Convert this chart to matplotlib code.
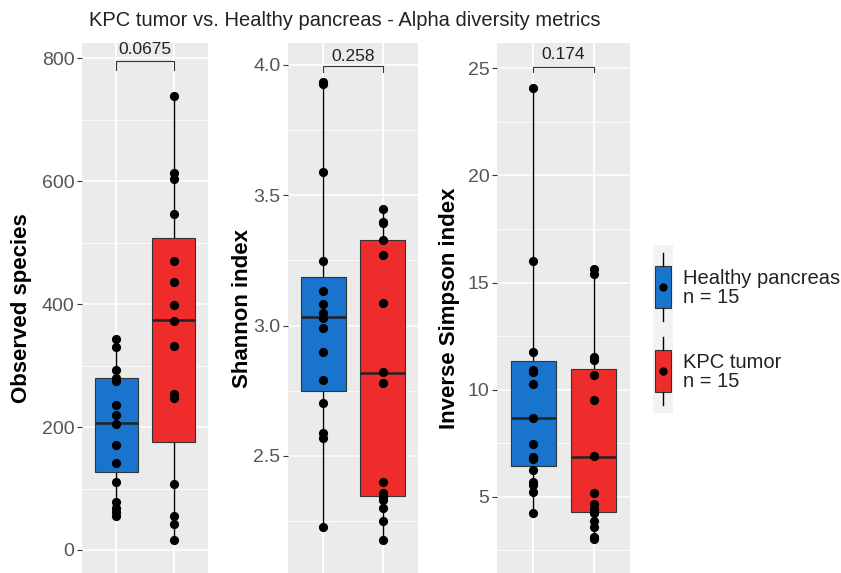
import matplotlib
matplotlib.use("Agg")
import matplotlib.pyplot as plt
from matplotlib.patches import Rectangle
from matplotlib.ticker import MultipleLocator

plt.rcParams['font.family'] = ['Liberation Sans', 'DejaVu Sans']

W, H = 841, 573

groups = ["Healthy pancreas", "KPC tumor"]
group_n = [15, 15]
fill_colors = ["#1874CD", "#EE2C2C"]

# values, one list per group and metric
obs_healthy = [343, 330, 293, 279, 274, 236, 219, 205, 171, 142, 111, 78, 68, 61, 55]
obs_kpc = [738, 613, 603, 546, 470, 435, 398, 373, 332, 254, 247, 107, 55, 42, 16]
shannon_healthy = [3.934, 3.927, 3.591, 3.246, 3.133, 3.082, 3.047, 3.028, 2.990,
                   2.900, 2.792, 2.705, 2.587, 2.570, 2.226]
shannon_kpc = [3.448, 3.399, 3.393, 3.329, 3.271, 3.086, 2.821, 2.779, 2.399,
               2.359, 2.344, 2.331, 2.299, 2.251, 2.178]
invsimp_healthy = [24.07, 16.01, 11.76, 10.93, 10.83, 10.28, 8.68, 7.48, 6.85,
                   6.78, 6.26, 5.69, 5.53, 5.22, 4.24]
invsimp_kpc = [15.65, 15.42, 11.53, 11.37, 10.67, 9.53, 6.88, 5.19, 4.64, 4.44,
               4.24, 3.89, 3.58, 3.11, 3.01]

# box statistics as drawn: (whisker low, q1, median, q3, whisker high)
obs_boxes = [(55, 127, 207, 279, 343), (16, 176, 374, 508, 738)]
shannon_boxes = [(2.226, 2.749, 3.032, 3.188, 3.934), (2.178, 2.347, 2.820, 3.329, 3.448)]
invsimp_boxes = [(4.24, 6.43, 8.68, 11.34, 24.07), (3.01, 4.31, 6.85, 10.98, 15.65)]

p_values = ["0.0675", "0.258", "0.174"]
y_labels = ["Observed species", "Shannon index", "Inverse Simpson index"]
title = "KPC tumor vs. Healthy pancreas - Alpha diversity metrics"


def px_rect(x0, y0, x1, y1):
    return [x0 / W, 1 - y1 / H, (x1 - x0) / W, (y1 - y0) / H]


fig = plt.figure(figsize=(W / 100, H / 100), dpi=100)

panels = [
    dict(rect=(82, 43, 208, 573), points=[obs_healthy, obs_kpc], boxes=obs_boxes,
         ylim=(-37.4, 824.4), major=200, minor=100, bracket=(795, 780, 802),
         fmt="{:.0f}", label_x=22),
    dict(rect=(288, 43, 418, 573), points=[shannon_healthy, shannon_kpc], boxes=shannon_boxes,
         ylim=(2.051, 4.084), major=0.5, minor=0.25, bracket=(3.996, 3.973, 4.005),
         fmt="{:.1f}", label_x=242),
    dict(rect=(497, 43, 630, 573), points=[invsimp_healthy, invsimp_kpc], boxes=invsimp_boxes,
         ylim=(1.44, 26.18), major=5, minor=2.5, bracket=(25.06, 24.82, 25.3),
         fmt="{:.0f}", label_x=450),
]

for i, p in enumerate(panels):
    ax = fig.add_axes(px_rect(*p["rect"]))
    ax.set_facecolor("#EBEBEB")
    for s in ax.spines.values():
        s.set_visible(False)
    ax.set_xlim(0.4, 2.6)
    ax.set_ylim(*p["ylim"])
    ax.yaxis.set_major_locator(MultipleLocator(p["major"]))
    ax.yaxis.set_minor_locator(MultipleLocator(p["minor"]))
    ax.set_xticks([1, 2])
    ax.tick_params(axis="x", length=0, labelbottom=False)
    ax.tick_params(axis="y", which="major", length=3.5, width=0.8, color="#333333",
                   labelcolor="#555555", labelsize=14, pad=2)
    ax.tick_params(axis="y", which="minor", length=0)
    ax.yaxis.set_major_formatter(matplotlib.ticker.FuncFormatter(
        lambda v, pos, f=p["fmt"]: f.format(v)))
    ax.grid(which="major", color="white", linewidth=1.1)
    ax.grid(which="minor", axis="y", color="white", linewidth=0.55)
    ax.set_axisbelow(True)

    stats = []
    for lo, q1, med, q3, hi in p["boxes"]:
        stats.append(dict(whislo=lo, q1=q1, med=med, q3=q3, whishi=hi, fliers=[]))
    bp = ax.bxp(stats, positions=[1, 2], widths=0.75, patch_artist=True, showcaps=False,
                boxprops=dict(edgecolor="#333333", linewidth=0.8),
                medianprops=dict(color="#222222", linewidth=1.8),
                whiskerprops=dict(color="black", linewidth=1.0))
    for patch, c in zip(bp["boxes"], fill_colors):
        patch.set_facecolor(c)
    for whisker in bp["whiskers"]:
        whisker.set_zorder(1.5)

    for k, vals in enumerate(p["points"]):
        ax.plot([k + 1] * len(vals), vals, "o", color="black", markersize=5.6, zorder=4)

    # significance bracket
    top, foot, txt = p["bracket"]
    ax.plot([1, 1, 2, 2], [foot, top, top, foot], color="#333333", linewidth=0.8,
            clip_on=False, zorder=5)
    ax.text(1.5, txt, p_values[i], ha="center", va="bottom", fontsize=12.5,
            color="#222222", clip_on=False)

    x0, y0, x1, y1 = p["rect"]
    fig.text(p["label_x"] / W, 1 - (y0 + y1) / 2 / H, y_labels[i], rotation=90,
             ha="center", va="center", fontsize=16, fontweight="bold", color="black")

fig.text(345 / W, 1 - 21 / H, title, ha="center", va="center", fontsize=14.5, color="#222222")

# legend keys drawn like the ggplot boxplot glyph
key_rects = [(653, 245, 673, 329), (653, 329, 673, 413)]
for (kx0, ky0, kx1, ky1), c, g, n in zip(key_rects, fill_colors, groups, group_n):
    kax = fig.add_axes(px_rect(kx0, ky0, kx1, ky1))
    kax.set_xlim(0, 1)
    kax.set_ylim(0, 1)
    kax.axis("off")
    kax.add_patch(Rectangle((0, 0), 1, 1, facecolor="#F2F2F2", edgecolor="none"))
    kax.plot([0.5, 0.5], [0.1, 0.25], color="black", linewidth=1.0)
    kax.plot([0.5, 0.5], [0.75, 0.9], color="black", linewidth=1.0)
    kax.add_patch(Rectangle((0.12, 0.25), 0.76, 0.5, facecolor=c, edgecolor="#333333",
                            linewidth=0.8))
    kax.plot([0.5], [0.5], "o", color="black", markersize=5)
    fig.text(683 / W, 1 - (ky0 + ky1 + 2) / 2 / H, "%s\nn = %d" % (g, n), ha="left",
             va="center", fontsize=14.5, color="#222222", linespacing=1.0)

fig.savefig("out.png", dpi=100)
